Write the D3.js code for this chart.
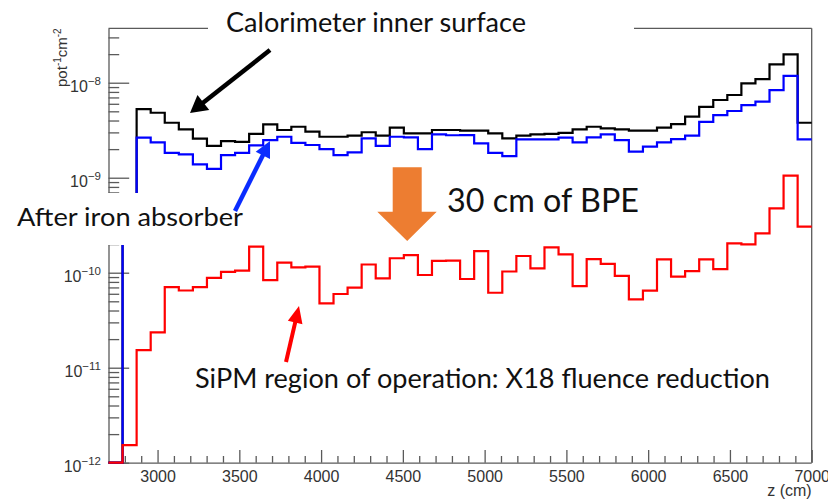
<!DOCTYPE html>
<html>
<head>
<meta charset="utf-8">
<script src="https://cdn.jsdelivr.net/npm/d3@7"></script>
<style>
  html, body { margin: 0; padding: 0; background: #fff; }
  svg { display: block; }
</style>
</head>
<body>
<svg id="chart" width="828" height="502"></svg>
<script>
// ---------------- data ----------------
const zEdges = [2700, 2786, 2872, 2958, 3044, 3130, 3216, 3302, 3388, 3474, 3560, 3646, 3732, 3818, 3904,
  3990, 4076, 4162, 4248, 4334, 4420, 4506, 4592, 4678, 4764, 4850, 4936, 5022, 5108, 5194, 5280, 5366,
  5452, 5538, 5624, 5710, 5796, 5882, 5968, 6054, 6140, 6226, 6312, 6398, 6484, 6570, 6656, 6742, 6828,
  6914, 7000];

const calorimeterSurface = [0, 5.0e-10, 5.28e-9, 4.83e-9, 3.79e-9, 3.23e-9, 2.58e-9, 2.16e-9, 2.43e-9, 2.38e-9,
  2.90e-9, 3.65e-9, 3.18e-9, 3.44e-9, 3.05e-9, 2.70e-9, 2.70e-9, 2.77e-9, 3.01e-9, 2.77e-9,
  3.36e-9, 2.93e-9, 2.93e-9, 3.18e-9, 3.18e-9, 3.13e-9, 3.13e-9, 2.93e-9, 2.60e-9, 2.77e-9,
  2.86e-9, 2.90e-9, 2.96e-9, 3.23e-9, 3.44e-9, 3.31e-9, 3.23e-9, 3.13e-9, 3.13e-9, 3.36e-9,
  3.67e-9, 4.39e-9, 5.58e-9, 6.58e-9, 7.43e-9, 9.86e-9, 1.09e-8, 1.56e-8, 1.99e-8, 3.79e-9];

const afterIronAbsorber = [0, 3.6e-10, 2.64e-9, 2.36e-9, 1.83e-9, 1.76e-9, 1.38e-9, 1.24e-9, 1.73e-9, 1.83e-9,
  2.19e-9, 2.49e-9, 2.70e-9, 2.33e-9, 2.21e-9, 2.00e-9, 1.73e-9, 1.85e-9, 2.60e-9, 2.16e-9,
  2.70e-9, 2.66e-9, 2.00e-9, 2.86e-9, 2.80e-9, 2.81e-9, 2.30e-9, 1.83e-9, 1.69e-9, 2.53e-9,
  2.53e-9, 2.53e-9, 2.64e-9, 2.36e-9, 2.66e-9, 2.86e-9, 2.49e-9, 1.88e-9, 2.12e-9, 2.36e-9,
  2.55e-9, 2.77e-9, 3.88e-9, 4.57e-9, 5.04e-9, 5.82e-9, 6.31e-9, 8.37e-9, 1.18e-8, 2.53e-9];

const sipmRegion = [0, 1.53e-12, 1.53e-11, 2.35e-11, 7.06e-11, 6.50e-11, 7.06e-11, 8.83e-11, 1.02e-10, 1.05e-10,
  1.88e-10, 8.37e-11, 1.28e-10, 1.14e-10, 1.16e-10, 4.76e-11, 5.97e-11, 6.95e-11, 1.22e-10, 8.73e-11,
  1.42e-10, 1.53e-10, 9.46e-11, 1.33e-10, 1.34e-10, 8.59e-11, 1.69e-10, 6.15e-11, 1.03e-10, 1.50e-10,
  1.11e-10, 1.85e-10, 1.56e-10, 7.24e-11, 1.39e-10, 1.24e-10, 9.28e-11, 5.25e-11, 6.47e-11, 1.38e-10,
  9.08e-11, 1.04e-10, 1.38e-10, 1.09e-10, 2.04e-10, 1.99e-10, 2.60e-10, 4.76e-10, 1.05e-9, 3.05e-10];

const xTickValues = [3000, 3500, 4000, 4500, 5000, 5500, 6000, 6500, 7000];
const xTickLabels = ["3000", "3500", "4000", "4500", "5000", "5500", "6000", "6500", "7000"];
const yTickValues = [1e-12, 1e-11, 1e-10, 1e-9, 1e-8];
const yTickExponents = ["\u221212", "\u221211", "\u221210", "\u22129", "\u22128"];

// ---------------- layout ----------------
const svg = d3.select("#chart");
const L = 108.5, R = 811.7, T = 28.3, B = 462.7;
const yMin = 1e-12, yMax = 3.74e-8;

const x = d3.scaleLinear().domain([zEdges[0], zEdges[zEdges.length - 1]]).range([L, R]);
const y = d3.scaleLog().domain([yMin, yMax]).range([B, T]);

const axisColor = "#5a5a5a";
const labelFont = "'Liberation Sans', Arial, Helvetica, sans-serif";
const annFont = "Lato, 'Noto Sans', sans-serif";

// frame: top and right
svg.append("line").attr("x1", L).attr("x2", R).attr("y1", T).attr("y2", T)
  .attr("stroke", axisColor).attr("stroke-width", 1.3);
svg.append("line").attr("x1", R).attr("x2", R).attr("y1", T).attr("y2", B)
  .attr("stroke", axisColor).attr("stroke-width", 1.3);

// x axis minor ticks
const xMinor = d3.range(2800, 7000, 100).filter(v => v % 500 !== 0);
svg.append("g").attr("transform", `translate(0,${B})`)
  .call(d3.axisBottom(x).tickValues(xMinor).tickSizeInner(-6.7).tickSizeOuter(0).tickFormat(""))
  .call(g => g.select(".domain").remove())
  .call(g => g.selectAll("line").attr("stroke", axisColor).attr("stroke-width", 1.3));

// x axis major
svg.append("g").attr("transform", `translate(0,${B})`)
  .call(d3.axisBottom(x).tickValues(xTickValues).tickSizeInner(-12.7).tickSizeOuter(0).tickPadding(7.5)
    .tickFormat((d, i) => xTickLabels[i]))
  .call(g => g.select(".domain").attr("stroke", axisColor).attr("stroke-width", 1.3)
    .attr("d", `M${L},0.5H${R}`))
  .call(g => g.selectAll("line").attr("stroke", axisColor).attr("stroke-width", 1.3))
  .call(g => g.selectAll("text").attr("font-family", labelFont).attr("font-size", 16).attr("fill", "#333"));

// y axis minor ticks
const yMinor = [];
for (let e = -12; e <= -8; e++) for (let m = 2; m <= 9; m++) {
  const v = m * Math.pow(10, e);
  if (v < yMax) yMinor.push(v);
}
svg.append("g").attr("transform", `translate(${L},0)`)
  .call(d3.axisLeft(y).tickValues(yMinor).tickSizeInner(-10.7).tickSizeOuter(0).tickFormat(""))
  .call(g => g.select(".domain").remove())
  .call(g => g.selectAll("line").attr("stroke", axisColor).attr("stroke-width", 1.3));

// y axis major
svg.append("g").attr("transform", `translate(${L},0)`)
  .call(d3.axisLeft(y).tickValues(yTickValues).tickSizeInner(-20.7).tickSizeOuter(0).tickPadding(7.5)
    .tickFormat(""))
  .call(g => g.select(".domain").attr("stroke", axisColor).attr("stroke-width", 1.3))
  .call(g => g.selectAll("line").attr("stroke", axisColor).attr("stroke-width", 1.3))
  .call(g => g.selectAll("text").each(function(d, i) {
    const t = d3.select(this);
    t.attr("font-family", labelFont).attr("font-size", 16).attr("fill", "#333").attr("dy", 8.5);
    t.append("tspan").text("10");
    t.append("tspan").attr("dy", -7).attr("font-size", 11.5).text(yTickExponents[i]);
  }));

// axis titles
svg.append("text").attr("x", R).attr("y", 496).attr("text-anchor", "end")
  .attr("font-family", labelFont).attr("font-size", 16).attr("fill", "#333").text("z (cm)");

const yTitle = svg.append("text").attr("transform", `translate(67,${T}) rotate(-90)`)
  .attr("text-anchor", "end").attr("font-family", labelFont).attr("font-size", 15).attr("fill", "#333");
yTitle.append("tspan").text("pot");
yTitle.append("tspan").attr("dy", -6).attr("font-size", 10).text("-1");
yTitle.append("tspan").attr("dy", 6).attr("font-size", 15).text("cm");
yTitle.append("tspan").attr("dy", -6).attr("font-size", 10).text("-2");

// ---------------- histograms ----------------
function histPts(vals) {
  const pts = vals.map((v, i) => [zEdges[i], v]);
  pts.push([zEdges[zEdges.length - 1], vals[vals.length - 1]]);
  return pts;
}
const stepLine = d3.line()
  .x(d => x(d[0]))
  .y(d => y(Math.max(d[1], yMin)))
  .curve(d3.curveStepAfter);

[[calorimeterSurface, "#000000"], [afterIronAbsorber, "#0000ff"], [sipmRegion, "#ff0000"]]
  .forEach(([vals, col]) => {
    svg.append("path").attr("d", stepLine(histPts(vals)))
      .attr("fill", "none").attr("stroke", col).attr("stroke-width", 2.2)
      .attr("stroke-linejoin", "miter");
  });

// ---------------- annotations ----------------
function arrow(x1, y1, x2, y2, w, headLen, headHalf, color) {
  const dx = x2 - x1, dy = y2 - y1, len = Math.hypot(dx, dy);
  const ux = dx / len, uy = dy / len, px = -uy, py = ux;
  const bx = x2 - ux * headLen, by = y2 - uy * headLen;
  svg.append("line").attr("x1", x1).attr("y1", y1).attr("x2", bx + ux * 2).attr("y2", by + uy * 2)
    .attr("stroke", color).attr("stroke-width", w);
  svg.append("polygon").attr("fill", color)
    .attr("points", [[x2, y2], [bx + px * headHalf, by + py * headHalf], [bx - px * headHalf, by - py * headHalf]]
      .map(p => p.join(",")).join(" "));
}

// white boxes behind slide texts
svg.append("rect").attr("x", 208).attr("y", 0).attr("width", 426).attr("height", 40).attr("fill", "#fff");
svg.append("rect").attr("x", 8).attr("y", 193).attr("width", 240).attr("height", 52).attr("fill", "#fff");

svg.append("text").attr("x", 226).attr("y", 32).attr("font-family", annFont).attr("font-size", 27)
  .attr("textLength", 300).attr("lengthAdjust", "spacingAndGlyphs").attr("fill", "#111")
  .text("Calorimeter inner surface");

svg.append("text").attr("x", 17).attr("y", 226).attr("font-family", annFont).attr("font-size", 25)
  .attr("textLength", 226).attr("lengthAdjust", "spacingAndGlyphs").attr("fill", "#111")
  .text("After iron absorber");

svg.append("text").attr("x", 447).attr("y", 212).attr("font-family", annFont).attr("font-size", 32)
  .attr("textLength", 192).attr("lengthAdjust", "spacingAndGlyphs").attr("fill", "#111")
  .text("30 cm of BPE");

svg.append("text").attr("x", 195).attr("y", 388).attr("font-family", annFont).attr("font-size", 26)
  .attr("textLength", 575).attr("lengthAdjust", "spacingAndGlyphs").attr("fill", "#111")
  .text("SiPM region of operation: X18 fluence reduction");

arrow(270, 50, 190, 113, 4.5, 17, 9.5, "#000");
arrow(235, 211, 270, 141, 4.5, 16, 8, "#0a2cff");
arrow(286, 362, 299, 306, 4, 17, 7.5, "#ff0000");

// orange block arrow
svg.append("polygon").attr("fill", "#ed7d31")
  .attr("points", [[392.7, 167.3], [421.7, 167.3], [421.7, 211.7], [436.7, 211.7], [407.2, 241],
    [377.3, 211.7], [392.7, 211.7]].map(p => p.join(",")).join(" "));
</script>
</body>
</html>
